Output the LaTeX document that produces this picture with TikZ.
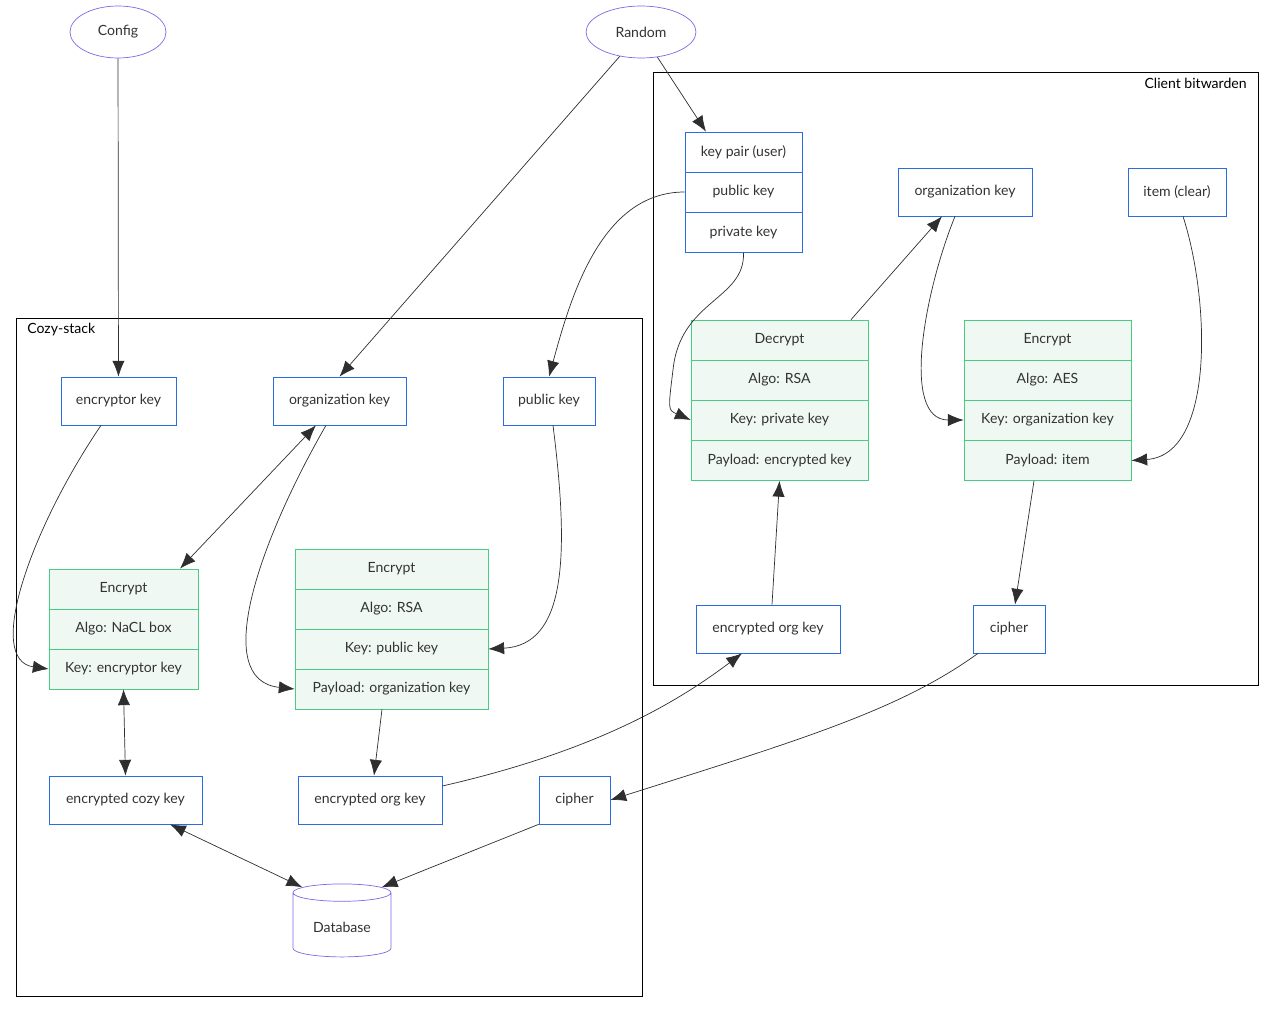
\documentclass[tikz,border=0pt]{standalone}
\usepackage{fontspec}
\setmainfont{Lato}
\usetikzlibrary{arrows.meta,shapes.geometric}
\definecolor{boxblue}{RGB}{40,110,225}
\definecolor{rowgreen}{RGB}{70,205,130}
\definecolor{rowfill}{RGB}{240,248,243}
\definecolor{ovalpurple}{RGB}{125,105,230}
\definecolor{txt}{RGB}{51,51,51}
\tikzset{
    BOX/.style ={rectangle,draw=boxblue,minimum height=0.96cm,inner sep=2pt,text=txt},
    ROW/.style ={rectangle,draw=rowgreen,fill=rowfill,minimum height=0.8cm,inner sep=0pt,text=txt},
    KR/.style ={rectangle,draw=boxblue,minimum width=2.34cm,minimum height=0.8cm,inner sep=0pt,text=txt},
    OV/.style ={ellipse,draw=ovalpurple,minimum height=1.04cm,text=txt},
    DB/.style ={cylinder,shape border rotate=90,aspect=0.25,draw=ovalpurple,minimum width=1.96cm,minimum height=1.46cm,text=txt},
    AR/.style ={draw=txt!90!black,-{Latex[length=9pt,width=7pt]}},
    AB/.style ={draw=txt!90!black,{Latex[length=9pt,width=7pt]}-{Latex[length=9pt,width=7pt]}}}
\begin{document}
\begin{tikzpicture}[x=0.02cm,y=-0.02cm,font=\fontsize{8}{10}\selectfont]
    \useasboundingbox (0,0) rectangle (1275,1013);
    % frames
    \draw (653,72) rectangle (1258,685);
    \node[anchor=north east,inner sep=0pt] (clientlbl) at (1247,78){Client bitwarden};
    \draw (16,318) rectangle (642,996);
    \node[anchor=north west,inner sep=0pt] (cozylbl) at (27,323){Cozy-stack};
    % sources
    \node[OV,minimum width=1.92cm] (config) at (118,32){Config};
    \node[OV,minimum width=2.2cm] (random) at (641,32){Random};
    % client side
    \node[KR] (kp) at (743.5,152){key pair (user)};
    \node[KR] (kppub) at (743.5,192){public key};
    \node[KR] (kppriv) at (743.5,232.5){private key};
    \node[BOX,minimum width=2.68cm] (corg) at (965,192){organization key};
    \node[BOX,minimum width=1.96cm] (item) at (1177,192){item (clear)};
    \node[ROW,minimum width=3.54cm] (dec) at (779.5,340){Decrypt};
    \node[ROW,minimum width=3.54cm] (decalgo) at (779.5,380){Algo: RSA};
    \node[ROW,minimum width=3.54cm] (deckey) at (779.5,420){Key: private key};
    \node[ROW,minimum width=3.54cm] (decpay) at (779.5,460.5){Payload: encrypted key};
    \node[ROW,minimum width=3.34cm] (aes) at (1047.5,340){Encrypt};
    \node[ROW,minimum width=3.34cm] (aesalgo) at (1047.5,380){Algo: AES};
    \node[ROW,minimum width=3.34cm] (aeskey) at (1047.5,420){Key: organization key};
    \node[ROW,minimum width=3.34cm] (aespay) at (1047.5,460.5){Payload: item};
    \node[BOX,minimum width=2.88cm] (cenc) at (768,629){encrypted org key};
    \node[BOX,minimum width=1.44cm] (ccipher) at (1009,629){cipher};
    % cozy side
    \node[BOX,minimum width=2.3cm] (enckey) at (118.5,401){encryptor key};
    \node[BOX,minimum width=2.66cm] (org) at (339.5,401){organization key};
    \node[BOX,minimum width=1.84cm] (pub) at (549,401){public key};
    \node[ROW,minimum width=2.98cm] (nacl) at (123.5,589){Encrypt};
    \node[ROW,minimum width=2.98cm] (naclalgo) at (123.5,629){Algo: NaCL box};
    \node[ROW,minimum width=2.98cm] (naclkey) at (123.5,669){Key: encryptor key};
    \node[ROW,minimum width=3.86cm] (rsa) at (391.5,569){Encrypt};
    \node[ROW,minimum width=3.86cm] (rsaalgo) at (391.5,609){Algo: RSA};
    \node[ROW,minimum width=3.86cm] (rsakey) at (391.5,649){Key: public key};
    \node[ROW,minimum width=3.86cm] (rsapay) at (391.5,689){Payload: organization key};
    \node[BOX,minimum width=3.06cm] (cozyenc) at (125.5,800){encrypted cozy key};
    \node[BOX,minimum width=2.88cm] (orgenc) at (370,800){encrypted org key};
    \node[BOX,minimum width=1.42cm] (cipher) at (574.5,800){cipher};
    \node[DB] (db) at (342,927){Database};
    % connectors
    \draw[AR] (config) -- (enckey);
    \draw[AR] (random) -- (org.north);
    \draw[AR] (random) -- (kp.north west -| 706,132);
    \draw[AR] (kppub.west) .. controls (600,192) and (570,300) .. (pub.north);
    \draw[AR] (kppriv.south) .. controls (745,300) and (680,300) .. (673,370) .. controls (668,410) .. (deckey.west);
    \draw[AR] (dec.north -| 851,320) -- (corg.south -| 942,217);
    \draw[AR] (corg.south -| 955,217) .. controls (925,290) and (900,420) .. (aeskey.west);
    \draw[AR] (item.south -| 1183,217) .. controls (1210,300) and (1215,455) .. (aespay.east);
    \draw[AR] (cenc.north -| 772,605) -- (decpay.south);
    \draw[AR] (aespay.south -| 1034,481) -- (ccipher.north -| 1015,605);
    \draw[AR] (ccipher.south -| 978,653) .. controls (900,710) and (800,740) .. (cipher.east);
    \draw[AB] (org.south -| 316,425) -- (nacl.north -| 180,569);
    \draw[AR] (enckey.south -| 101,425) .. controls (30,530) and (-15,660) .. (naclkey.west);
    \draw[AR] (org.south -| 326,425) .. controls (260,540) and (210,680) .. (rsapay.west);
    \draw[AR] (pub.south -| 553,425) .. controls (570,560) and (565,645) .. (rsakey.east);
    \draw[AR] (rsapay.south -| 382,709) -- (orgenc.north -| 374,776);
    \draw[AB] (naclkey.south) -- (cozyenc.north);
    \draw[AR] (orgenc.east |- 442,786) .. controls (600,750) and (680,700) .. (cenc.south -| 742,653);
    \draw[AB] (cozyenc.south -| 170,824) -- (db.north west);
    \draw[AR] (cipher.south west) -- (db.north east);
\end{tikzpicture}
\end{document}
